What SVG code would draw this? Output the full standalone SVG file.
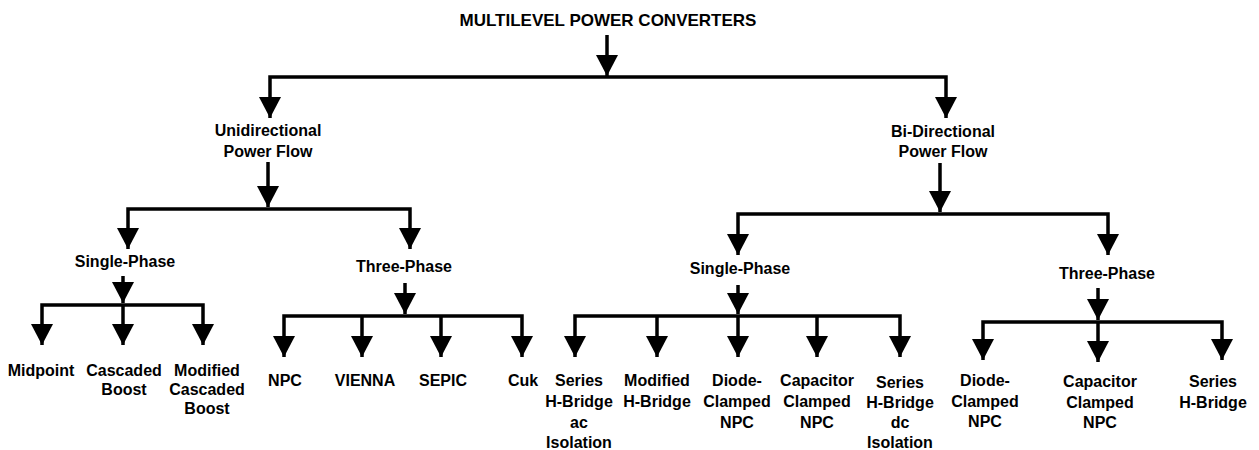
<svg xmlns="http://www.w3.org/2000/svg" width="1259" height="450" viewBox="0 0 1259 450">
  <defs>
    <marker id="ah" viewBox="0 -12 22 24" refX="21" refY="0" markerWidth="22" markerHeight="24" markerUnits="userSpaceOnUse" orient="auto-start-reverse">
      <path d="M0,-11 L21,0 L0,11 z" fill="#000"/>
    </marker>
  </defs>
  <style>
    .t { font-family: "Liberation Sans", Arial, sans-serif; font-weight: bold; font-size: 16px; fill: #000; text-anchor: middle; }
    .title { font-size: 17px; }
    .c { fill: none; stroke: #000; stroke-width: 3.5; stroke-linejoin: miter; }
    .a { marker-end: url(#ah); }
    .b { marker-start: url(#ah); marker-end: url(#ah); }
  </style>
  <rect width="1259" height="450" fill="#fff"/>

  <g id="connectors">
    <path class="c a" d="M607,35 V76"/>
    <path class="c b" d="M270,118 V77 H946 V118"/>

    <path class="c a" d="M268,162 V207"/>
    <path class="c b" d="M128,249 V209 H410 V249"/>

    <path class="c a" d="M940,163 V212"/>
    <path class="c b" d="M738,255 V214 H1108 V255"/>

    <path class="c a" d="M123,276 V303"/>
    <path class="c b" d="M42,345 V305 H203 V345"/>
    <path class="c a" d="M123,305 V345"/>

    <path class="c a" d="M405,283 V314"/>
    <path class="c b" d="M284,357 V316 H522 V357"/>
    <path class="c a" d="M362,316 V357"/>
    <path class="c a" d="M441,316 V357"/>

    <path class="c a" d="M738,285 V314"/>
    <path class="c b" d="M575,357 V316 H900 V357"/>
    <path class="c a" d="M657,316 V357"/>
    <path class="c a" d="M738,316 V357"/>
    <path class="c a" d="M817,316 V357"/>

    <path class="c a" d="M1098,288 V320"/>
    <path class="c b" d="M983,360 V322 H1222 V360"/>
    <path class="c a" d="M1098,322 V362"/>
  </g>

  <g id="n-root"><text class="t title" x="608" y="26">MULTILEVEL POWER CONVERTERS</text></g>

  <g id="n-uni"><text class="t" x="268" y="136">Unidirectional</text><text class="t" x="268" y="157">Power Flow</text></g>
  <g id="n-bi"><text class="t" x="943" y="137">Bi-Directional</text><text class="t" x="943" y="157">Power Flow</text></g>

  <g id="n-uni-single"><text class="t" x="125" y="267">Single-Phase</text></g>
  <g id="n-uni-three"><text class="t" x="404" y="272">Three-Phase</text></g>
  <g id="n-bi-single"><text class="t" x="740" y="274">Single-Phase</text></g>
  <g id="n-bi-three"><text class="t" x="1107" y="279">Three-Phase</text></g>

  <g id="n-midpoint"><text class="t" x="41" y="376">Midpoint</text></g>
  <g id="n-cascaded"><text class="t" x="124" y="376">Cascaded</text><text class="t" x="124" y="395">Boost</text></g>
  <g id="n-modcascaded"><text class="t" x="207" y="376">Modified</text><text class="t" x="207" y="395">Cascaded</text><text class="t" x="207" y="414">Boost</text></g>

  <g id="n-npc"><text class="t" x="285" y="386">NPC</text></g>
  <g id="n-vienna"><text class="t" x="365" y="386">VIENNA</text></g>
  <g id="n-sepic"><text class="t" x="443" y="386">SEPIC</text></g>
  <g id="n-cuk"><text class="t" x="523" y="386">Cuk</text></g>

  <g id="n-shb-ac"><text class="t" x="579" y="386">Series</text><text class="t" x="579" y="407">H-Bridge</text><text class="t" x="579" y="428">ac</text><text class="t" x="579" y="448">Isolation</text></g>
  <g id="n-modhb"><text class="t" x="657" y="386">Modified</text><text class="t" x="657" y="407">H-Bridge</text></g>
  <g id="n-dcnpc1"><text class="t" x="737" y="386">Diode-</text><text class="t" x="737" y="407">Clamped</text><text class="t" x="737" y="428">NPC</text></g>
  <g id="n-ccnpc1"><text class="t" x="817" y="386">Capacitor</text><text class="t" x="817" y="407">Clamped</text><text class="t" x="817" y="428">NPC</text></g>
  <g id="n-shb-dc"><text class="t" x="900" y="388">Series</text><text class="t" x="900" y="408">H-Bridge</text><text class="t" x="900" y="428">dc</text><text class="t" x="900" y="448">Isolation</text></g>

  <g id="n-dcnpc2"><text class="t" x="985" y="386">Diode-</text><text class="t" x="985" y="407">Clamped</text><text class="t" x="985" y="427">NPC</text></g>
  <g id="n-ccnpc2"><text class="t" x="1100" y="387">Capacitor</text><text class="t" x="1100" y="408">Clamped</text><text class="t" x="1100" y="428">NPC</text></g>
  <g id="n-shb3"><text class="t" x="1213" y="387">Series</text><text class="t" x="1213" y="408">H-Bridge</text></g>
</svg>
